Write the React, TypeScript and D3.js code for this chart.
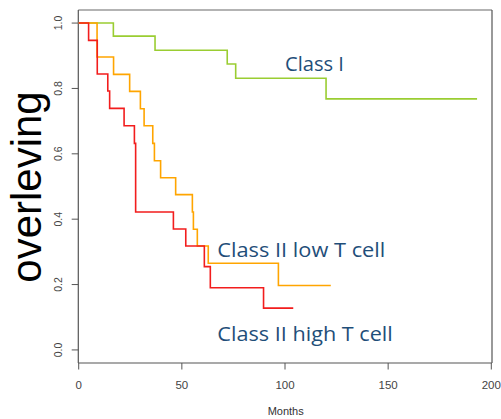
import React from "react";
import * as d3 from "d3";

const W = 501, H = 419;

// Kaplan-Meier steps: time of each drop (months) and survival after it
const classITimes = [0, 16.8, 37.0, 72.0, 76.1, 119.9, 193.1];
const classISurv = [1, 0.96, 0.917, 0.875, 0.831, 0.768, 0.768];

const lowTTimes = [0, 8.9, 16.9, 24.7, 29.9, 31.7, 35.9, 36.7, 39.7, 47.0, 55.1, 55.6, 57.5, 62.8, 96.8, 122.2];
const lowTSurv = [1, 0.896, 0.843, 0.791, 0.738, 0.686, 0.632, 0.579, 0.527, 0.475, 0.422, 0.369, 0.318, 0.265, 0.197, 0.197];

const highTTimes = [0, 4.8, 9.0, 14.1, 15.0, 22.0, 27.0, 27.6, 45.9, 51.9, 60.9, 63.8, 89.6, 104.0];
const highTSurv = [1, 0.947, 0.844, 0.792, 0.739, 0.686, 0.632, 0.422, 0.37, 0.318, 0.255, 0.19, 0.128, 0.128];

const xTicks = [0, 50, 100, 150, 200];
const yTicks = [0, 0.2, 0.4, 0.6, 0.8, 1.0];

const series = [
  { name: "Class I", t: classITimes, s: classISurv, color: "#9ACD32" },
  { name: "Class II low T cell", t: lowTTimes, s: lowTSurv, color: "#FFA500" },
  { name: "Class II high T cell", t: highTTimes, s: highTSurv, color: "#F21D1D" },
];

// label positions (left x, baseline y, width)
const labels = [
  { text: "Class I", x: 285, y: 70.7, w: 59 },
  { text: "Class II low T cell", x: 217.3, y: 257.3, w: 168 },
  { text: "Class II high T cell", x: 217.3, y: 341, w: 175.5 },
];

const BOX = { l: 78.3, t: 10, r: 492, b: 363 };

export default function App() {
  const x = d3.scaleLinear([0, 200], [78.7, 491.3]);
  const y = d3.scaleLinear([-0.04, 1.04], [BOX.b, BOX.t]);
  const line = d3
    .line<number>()
    .curve(d3.curveStepAfter);

  const axisFont = "'Liberation Sans', Arial, sans-serif";

  return (
    <svg width={W} height={H} style={{ position: "absolute", left: 0, top: 0, background: "#fff" }}>
      {/* box */}
      <line x1={BOX.l} y1={BOX.t} x2={BOX.r} y2={BOX.t} stroke="#9a9a9a" strokeWidth={1.5} />
      <line x1={BOX.r} y1={BOX.t} x2={BOX.r} y2={BOX.b} stroke="#555" strokeWidth={1.2} />
      <line x1={BOX.l} y1={BOX.t} x2={BOX.l} y2={BOX.b} stroke="#555" strokeWidth={1.2} />
      <line x1={BOX.l} y1={BOX.b} x2={BOX.r} y2={BOX.b} stroke="#555" strokeWidth={1.2} />

      {/* y axis */}
      {yTicks.map((v) => (
        <g key={v}>
          <line x1={71.7} x2={BOX.l} y1={y(v)} y2={y(v)} stroke="#555" strokeWidth={1} />
          <text
            transform={`translate(61.8,${y(v)}) rotate(-90)`}
            textAnchor="middle"
            fontFamily={axisFont}
            fontSize={10.5}
            fill="#444"
          >
            {v.toFixed(1)}
          </text>
        </g>
      ))}

      {/* x axis */}
      {xTicks.map((v) => (
        <g key={v}>
          <line x1={x(v)} x2={x(v)} y1={BOX.b} y2={369.5} stroke="#555" strokeWidth={1} />
          <text x={x(v)} y={388.5} textAnchor="middle" fontFamily={axisFont} fontSize={11.5} fill="#444">
            {v}
          </text>
        </g>
      ))}
      <text x={285.7} y={415} textAnchor="middle" fontFamily={axisFont} fontSize={11} fill="#333">
        Months
      </text>

      {/* y title */}
      <text
        transform="translate(41,187) rotate(-90)"
        textAnchor="middle"
        fontFamily={axisFont}
        fontSize={42}
        fill="#000"
      >
        overleving
      </text>

      {/* curves */}
      {series.map((sr) => (
        <path
          key={sr.name}
          d={line.x((_, i) => x(sr.t[i])).y((v) => y(v))(sr.s) ?? ""}
          fill="none"
          stroke={sr.color}
          strokeWidth={1.6}
        />
      ))}

      {/* group labels */}
      {labels.map((lb) => (
        <text
          key={lb.text}
          x={lb.x}
          y={lb.y}
          fontFamily="'Open Sans', 'Noto Sans', sans-serif"
          fontSize={20.5}
          fill="#1F4E79"
          textLength={lb.w}
          lengthAdjust="spacingAndGlyphs"
        >
          {lb.text}
        </text>
      ))}
    </svg>
  );
}
